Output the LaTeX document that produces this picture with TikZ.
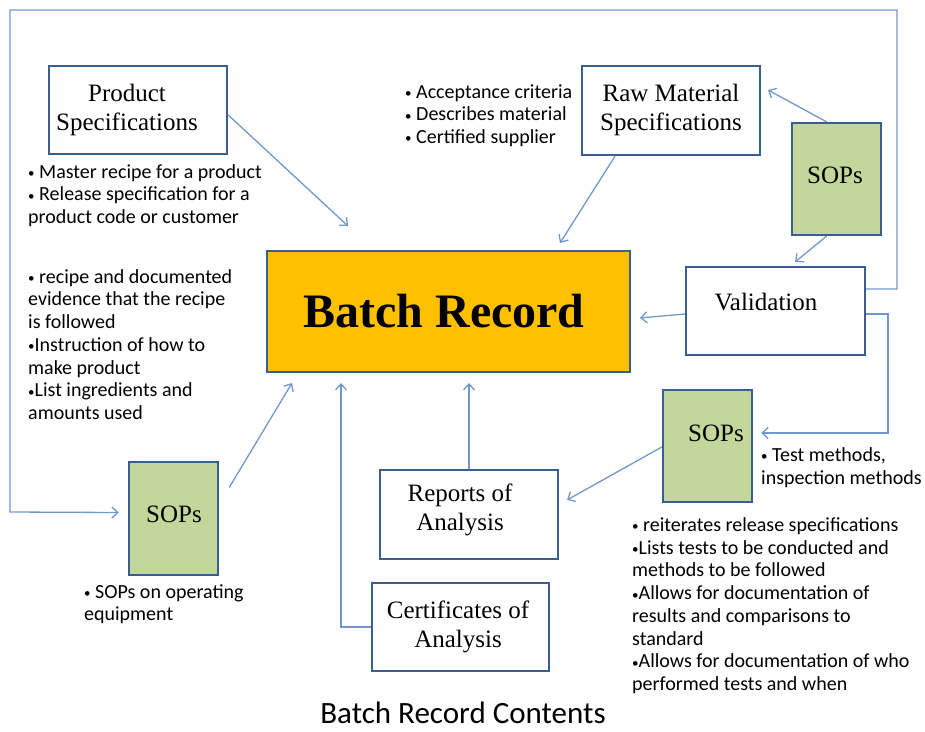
\documentclass[tikz,border=0pt]{standalone}
\usepackage{fontspec}
\setmainfont{Liberation Serif}
\newfontfamily\notefont{Carlito}
\usetikzlibrary{arrows.meta}
\definecolor{boxline}{HTML}{3A5F8F}
\definecolor{linkline}{HTML}{7098CC}
\definecolor{sopfill}{HTML}{C3D69B}
\definecolor{recfill}{HTML}{FFC000}
% small bullet used in the side notes
\newcommand\bul{{\fontsize{13}{13}\selectfont\raisebox{0.6pt}{•}}}

\begin{document}
\begin{tikzpicture}[x=1pt,y=-1pt,
  box/.style={draw=boxline,line width=2.4pt,fill=white,inner sep=0pt},
  sop/.style={box,fill=sopfill,minimum width=89pt,minimum height=112pt},
  doc/.style={box,minimum width=178pt,minimum height=88pt},
  boxtext/.style={inner sep=0pt,align=center,font=\fontsize{25}{29}\selectfont},
  link/.style={draw=linkline,line width=1.3pt},
  arr/.style={link,-{Straight Barb[length=6pt,width=11pt,line width=1.3pt]}},
  note/.style={anchor=north west,align=left,inner sep=0pt,
    font=\notefont\fontsize{20}{22.7}\selectfont,execute at begin node=\strut},
]
\useasboundingbox (0,0) rectangle (925,731);

% boxes
\node[doc] (ps) at (138,110) {};
\node[boxtext] (psT) at (127,110) {Product\\Specifications};
\node[doc,minimum height=89pt] (rm) at (671,110.5) {};
\node[boxtext] (rmT) at (671,110) {Raw Material\\Specifications};
\node[sop] (s1) at (836.5,179) {};
\node[boxtext] (s1T) at (835,175) {SOPs};
\node[doc,minimum width=179pt] (val) at (775.5,311) {};
\node[boxtext] (valT) at (766,302.5) {Validation};
\node[box,fill=recfill,minimum width=363pt,minimum height=121pt] (br) at (448.5,311.5) {};
\node[inner sep=0pt,font=\bfseries\fontsize{48}{52}\selectfont] (brT) at (444,311) {Batch Record};
\node[sop,minimum height=113pt] (s2) at (173.5,518.5) {};
\node[boxtext] (s2T) at (174,514) {SOPs};
\node[sop] (s3) at (707.5,446) {};
\node[boxtext] (s3T) at (716,433) {SOPs};
\node[doc,minimum height=89pt] (rep) at (469,514.5) {};
\node[boxtext] (repT) at (460,509.5) {Reports of\\Analysis};
\node[doc,minimum width=177pt] (cert) at (460.5,627) {};
\node[boxtext] (certT) at (458,626.5) {Certificates of\\Analysis};

% free arrow tips
\coordinate (t1) at (348,226);
\coordinate (t2) at (560,243);
\coordinate (t3) at (768,90);
\coordinate (t4) at (795,262);
\coordinate (t5) at (640,318);
\coordinate (t6) at (292,383);
\coordinate (t7) at (341,383);
\coordinate (t8) at (469,383);
\coordinate (t9) at (567,500);

% connectors
\draw[arr] ([yshift=-5pt]ps.east) -- (t1);
\draw[arr] ([xshift=-56pt]rm.south) -- (t2);
\draw[arr] ([xshift=-10pt]s1.north) -- (t3);
\draw[arr] ([xshift=-10pt]s1.south) -- (t4);
\draw[arr] ([yshift=-3pt]val.west) -- (t5);
\draw[arr] ([yshift=22pt]val.east) -| (897,10) -| (10,512) -- ([xshift=-9pt,yshift=6pt]s2.west);
\draw[arr] ([yshift=-3pt]val.east) -| (888,433) -- ([xshift=8pt,yshift=13pt]s3.east);
\draw[arr] ([xshift=10pt,yshift=31pt]s2.east) -- (t6);
\draw[arr] (cert.west) -| (t7);
\draw[arr] (rep.north) -- (t8);
\draw[arr] ([yshift=-1pt]s3.west) -- (t9);

% notes (top edge = first baseline minus strut height)
\node[note] (n1) at (28,164.2) {\bul{} Master recipe for a product\\\bul{} Release specification  for a\\product  code or customer};
\node[note] (n2) at (405,84.2) {\bul{} Acceptance  criteria\\\bul{} Describes material\\\bul{} Certified  supplier};
\node[note] (n3) at (28,269.2) {\bul{} recipe and documented\\evidence that the recipe\\is followed\\\bul Instruction of how to\\make product\\\bul List ingredients and\\amounts used};
\node[note] (n4) at (84,584.2) {\bul{} SOPs on operating\\equipment};
\node[note] (n5) at (761,447.5) {\bul{} Test methods,\\inspection methods};
\node[note] (n6) at (632,517.5) {\bul{} reiterates release specifications\\\bul Lists tests to be conducted and\\methods to be followed\\\bul Allows for documentation of\\results and comparisons to\\standard\\\bul Allows for documentation of who\\performed tests and when};

% caption
\node[inner sep=0pt,anchor=base,text depth=0pt,font=\notefont\fontsize{31}{33}\selectfont] (cap) at (463,723.5) {Batch Record Contents};
\end{tikzpicture}
\end{document}
